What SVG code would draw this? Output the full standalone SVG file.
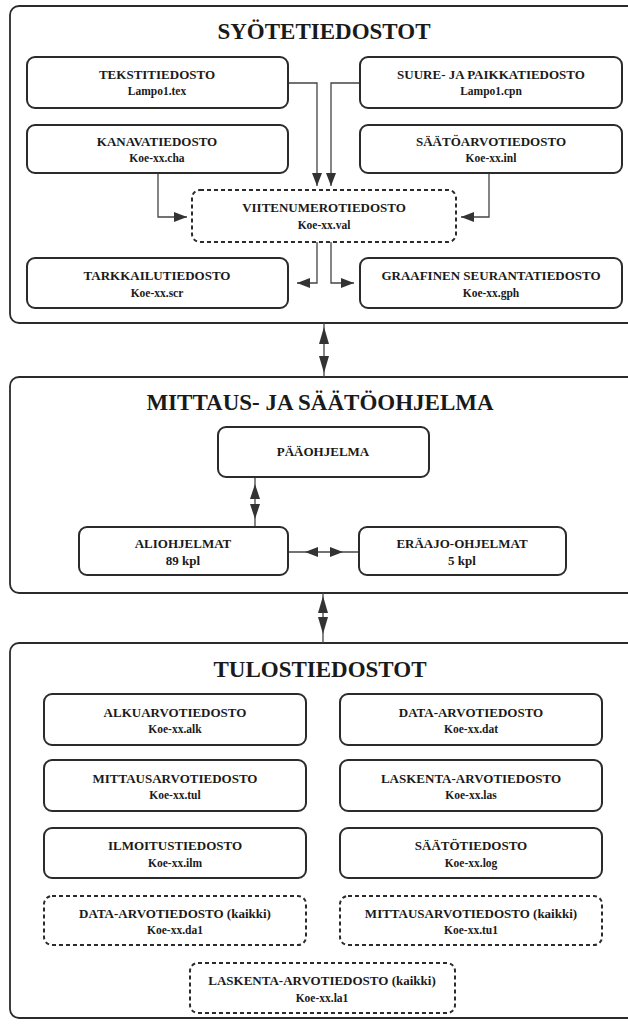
<svg xmlns="http://www.w3.org/2000/svg" width="628" height="1026" viewBox="0 0 628 1026">
<defs>
<style>
.panel{fill:none;stroke:#2b2b2b;stroke-width:1.8}
.box{fill:#fff;stroke:#2b2b2b;stroke-width:2}
.dash{fill:#fff;stroke:#2b2b2b;stroke-width:2;stroke-dasharray:4 3}
.title{font-family:"Liberation Serif",serif;font-weight:bold;font-size:23px;fill:#1a1a1a;text-anchor:middle}
.lbl{font-family:"Liberation Serif",serif;font-weight:bold;font-size:13px;fill:#1a1a1a;text-anchor:middle}
.fn{font-family:"Liberation Serif",serif;font-weight:bold;font-size:11.5px;fill:#1a1a1a;text-anchor:middle}
.con{fill:none;stroke:#444;stroke-width:1.3}
.head{fill:#333;stroke:none}
</style>
<marker id="ah" markerUnits="userSpaceOnUse" markerWidth="13" markerHeight="10" refX="13" refY="5" orient="auto">
<path d="M0,0 L13,5 L0,10 z" fill="#333"/>
</marker>
</defs>
<rect width="628" height="1026" fill="#fff"/>

<g id="panel-syote">
<rect class="panel" x="10" y="6" width="660" height="317" rx="9"/>
<text class="title" x="324" y="39">SYÖTETIEDOSTOT</text>
</g>
<g id="panel-ohjelma">
<rect class="panel" x="10" y="377" width="660" height="216" rx="9"/>
<text class="title" x="320" y="410">MITTAUS- JA SÄÄTÖOHJELMA</text>
</g>
<g id="panel-tulos">
<rect class="panel" x="10" y="643" width="660" height="375" rx="9"/>
<text class="title" x="320" y="677">TULOSTIEDOSTOT</text>
</g>

<g id="connectors">
<path class="con" d="M288,83 H317 V186" marker-end="url(#ah)"/>
<path class="con" d="M360,83 H331 V186" marker-end="url(#ah)"/>
<path class="con" d="M158,173 V217 H187" marker-end="url(#ah)"/>
<path class="con" d="M489,173 V217 H461" marker-end="url(#ah)"/>
<path class="con" d="M317,242 V283 H297" marker-end="url(#ah)"/>
<path class="con" d="M331,242 V283 H354" marker-end="url(#ah)"/>
<path class="con" d="M324,323 V377"/>
<polygon class="head" points="324,327 319,344 329,344"/>
<polygon class="head" points="324,373 319,356 329,356"/>
<path class="con" d="M255,477 V527"/>
<polygon class="head" points="255,484 250,499 260,499"/>
<polygon class="head" points="255,519 250,504 260,504"/>
<path class="con" d="M288,552 H359" stroke="#777"/>
<polygon class="head" points="305,552 318,547 318,557"/>
<polygon class="head" points="343,552 330,547 330,557"/>
<path class="con" d="M323,593 V643"/>
<polygon class="head" points="323,596 318,613 328,613"/>
<polygon class="head" points="323,634 318,617 328,617"/>
</g>

<g id="n-teksti"><rect class="box" x="27" y="57" width="261" height="51" rx="8"/><text class="lbl" x="157" y="79">TEKSTITIEDOSTO</text><text class="fn" x="157" y="95">Lampo1.tex</text></g>
<g id="n-suure"><rect class="box" x="360" y="57" width="262" height="51" rx="8"/><text class="lbl" x="491" y="79">SUURE- JA PAIKKATIEDOSTO</text><text class="fn" x="491" y="95">Lampo1.cpn</text></g>
<g id="n-kanava"><rect class="box" x="27" y="125" width="261" height="48" rx="8"/><text class="lbl" x="157" y="146">KANAVATIEDOSTO</text><text class="fn" x="157" y="162">Koe-xx.cha</text></g>
<g id="n-saatoarvo"><rect class="box" x="360" y="125" width="262" height="48" rx="8"/><text class="lbl" x="491" y="146">SÄÄTÖARVOTIEDOSTO</text><text class="fn" x="491" y="162">Koe-xx.inl</text></g>
<g id="n-viite"><rect class="dash" x="192" y="190" width="264" height="52" rx="8"/><text class="lbl" x="324" y="212">VIITENUMEROTIEDOSTO</text><text class="fn" x="324" y="229">Koe-xx.val</text></g>
<g id="n-tarkkailu"><rect class="box" x="27" y="258" width="261" height="50" rx="8"/><text class="lbl" x="157" y="280">TARKKAILUTIEDOSTO</text><text class="fn" x="157" y="297">Koe-xx.scr</text></g>
<g id="n-graafinen"><rect class="box" x="360" y="258" width="262" height="50" rx="8"/><text class="lbl" x="491" y="280">GRAAFINEN SEURANTATIEDOSTO</text><text class="fn" x="491" y="297">Koe-xx.gph</text></g>

<g id="n-paa"><rect class="box" x="218" y="427" width="211" height="50" rx="8"/><text class="lbl" x="323" y="456">PÄÄOHJELMA</text></g>
<g id="n-alio"><rect class="box" x="79" y="527" width="209" height="48" rx="8"/><text class="lbl" x="183" y="548">ALIOHJELMAT</text><text class="lbl" x="183" y="565">89 kpl</text></g>
<g id="n-eraajo"><rect class="box" x="359" y="527" width="207" height="48" rx="8"/><text class="lbl" x="462" y="548">ERÄAJO-OHJELMAT</text><text class="lbl" x="462" y="565">5 kpl</text></g>

<g id="n-alku"><rect class="box" x="44" y="694" width="262" height="51" rx="8"/><text class="lbl" x="175" y="717">ALKUARVOTIEDOSTO</text><text class="fn" x="175" y="733">Koe-xx.alk</text></g>
<g id="n-data"><rect class="box" x="340" y="694" width="262" height="51" rx="8"/><text class="lbl" x="471" y="717">DATA-ARVOTIEDOSTO</text><text class="fn" x="471" y="733">Koe-xx.dat</text></g>
<g id="n-mittaus"><rect class="box" x="44" y="760" width="262" height="51" rx="8"/><text class="lbl" x="175" y="783">MITTAUSARVOTIEDOSTO</text><text class="fn" x="175" y="799">Koe-xx.tul</text></g>
<g id="n-laskenta"><rect class="box" x="340" y="760" width="262" height="51" rx="8"/><text class="lbl" x="471" y="783">LASKENTA-ARVOTIEDOSTO</text><text class="fn" x="471" y="799">Koe-xx.las</text></g>
<g id="n-ilmoitus"><rect class="box" x="44" y="828" width="262" height="50" rx="8"/><text class="lbl" x="175" y="850">ILMOITUSTIEDOSTO</text><text class="fn" x="175" y="867">Koe-xx.ilm</text></g>
<g id="n-saato"><rect class="box" x="340" y="828" width="262" height="50" rx="8"/><text class="lbl" x="471" y="850">SÄÄTÖTIEDOSTO</text><text class="fn" x="471" y="867">Koe-xx.log</text></g>
<g id="n-data-kaikki"><rect class="dash" x="44" y="896" width="262" height="49" rx="8"/><text class="lbl" x="175" y="918">DATA-ARVOTIEDOSTO (kaikki)</text><text class="fn" x="175" y="934">Koe-xx.da1</text></g>
<g id="n-mittaus-kaikki"><rect class="dash" x="340" y="896" width="262" height="49" rx="8"/><text class="lbl" x="471" y="918">MITTAUSARVOTIEDOSTO (kaikki)</text><text class="fn" x="471" y="934">Koe-xx.tu1</text></g>
<g id="n-laskenta-kaikki"><rect class="dash" x="190" y="963" width="265" height="50" rx="8"/><text class="lbl" x="322" y="985">LASKENTA-ARVOTIEDOSTO (kaikki)</text><text class="fn" x="322" y="1002">Koe-xx.la1</text></g>
</svg>
